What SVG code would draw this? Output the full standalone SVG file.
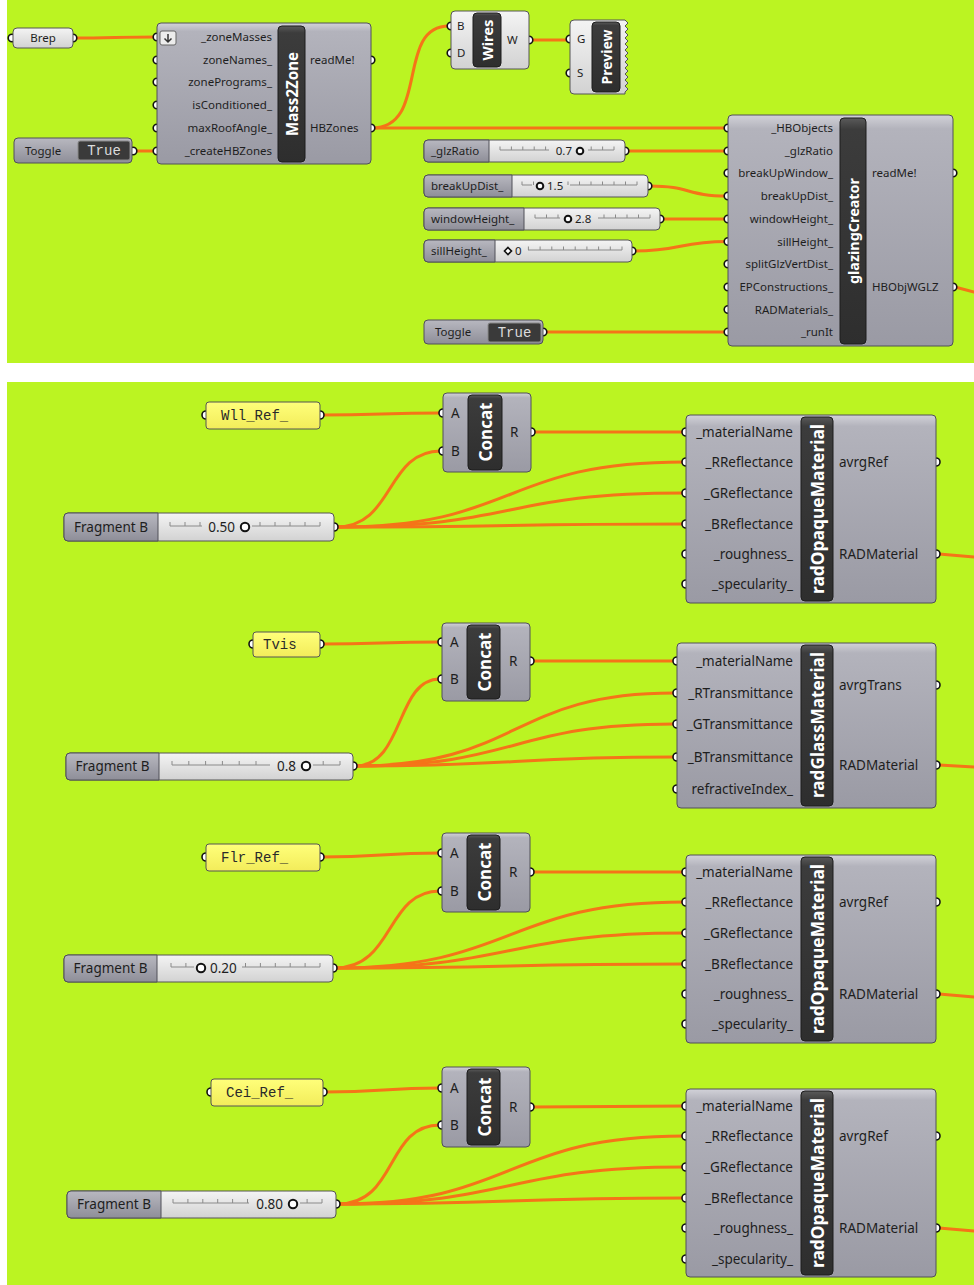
<svg xmlns="http://www.w3.org/2000/svg" width="974" height="1285" viewBox="0 0 974 1285">
<defs>
<linearGradient id="gComp" x1="0" y1="0" x2="0" y2="1"><stop offset="0" stop-color="#d2d2d8"/><stop offset="0.06" stop-color="#b3b3bc"/><stop offset="1" stop-color="#9a9aa4"/></linearGradient>
<linearGradient id="gWhite" x1="0" y1="0" x2="0" y2="1"><stop offset="0" stop-color="#f4f4f4"/><stop offset="1" stop-color="#d2d2d2"/></linearGradient>
<linearGradient id="gLab" x1="0" y1="0" x2="0" y2="1"><stop offset="0" stop-color="#b8b8c0"/><stop offset="1" stop-color="#8e8e98"/></linearGradient>
<linearGradient id="gTitle" x1="0" y1="0" x2="0" y2="1"><stop offset="0" stop-color="#5a5a5a"/><stop offset="0.05" stop-color="#3c3c3c"/><stop offset="1" stop-color="#2e2e2e"/></linearGradient>
<linearGradient id="gYel" x1="0" y1="0" x2="0" y2="1"><stop offset="0" stop-color="#ffff7a"/><stop offset="1" stop-color="#f2ec5a"/></linearGradient>
</defs>
<style>
.bg{fill:#bbf422}
.wire{fill:none;stroke:#f57418;stroke-width:3;stroke-linecap:round}
.pl{fill:url(#gComp);stroke:#505058;stroke-width:1}
.pw{fill:url(#gWhite);stroke:#555;stroke-width:1}
.sd{fill:url(#gLab);stroke:#505058;stroke-width:1}
.yl{fill:url(#gYel);stroke:#555;stroke-width:1}
.tb{fill:url(#gTitle);stroke:#1c1c1c;stroke-width:1}
.tg{fill:#3a3a3a;stroke:#8a8a8a;stroke-width:1}
.port{fill:#fff;stroke:#111;stroke-width:1.6}
.tt{font-family:'Noto Sans','DejaVu Sans',sans-serif;font-weight:bold;fill:#fff;text-anchor:middle;dominant-baseline:central}
.l{font-family:'Noto Sans','DejaVu Sans',sans-serif;font-size:11.5px;fill:#1e1e1e}
.L{font-family:'Noto Sans','DejaVu Sans',sans-serif;font-size:13.5px;fill:#1e1e1e}
.r{text-anchor:end}
.c{text-anchor:middle}
.m{font-family:'Liberation Mono','Courier New',monospace;fill:#2a2a2a}
.tv{font-family:'Liberation Mono','Courier New',monospace;font-size:14px;fill:#dcdcdc;text-anchor:middle}
.trk{fill:none;stroke:#8a8a8a;stroke-width:1}
.knob{fill:#fff;stroke:#111;stroke-width:2}
</style>
<rect x="0" y="0" width="974" height="1285" fill="#ffffff"/>
<rect class="bg" x="7" y="0" width="967" height="363"/>
<rect class="bg" x="7" y="382" width="967" height="903"/>

<g id="connectors">
<path class="wire" d="M74,38 C110,38 120,37 156,37"/>
<path class="wire" d="M134,151 H156"/>
<path class="wire" d="M372,128 C430,128 395,26 449,26"/>
<path class="wire" d="M372,128 H727"/>
<path class="wire" d="M531,40 H568"/>
<path class="wire" d="M627,151 H727"/>
<path class="wire" d="M650,186 C690,186 687,196 727,196"/>
<path class="wire" d="M662,219 H727"/>
<path class="wire" d="M634,251 C682,251 679,241.5 727,241.5"/>
<path class="wire" d="M545,332 H727"/>
<path class="wire" d="M955,287 L974,292"/>

<path class="wire" d="M322,415 C380,415 383,413 441,413"/>
<path class="wire" d="M336,527 C395,527 385,451 441,451"/>
<path class="wire" d="M336,527 C520,527 500,462 684,462"/>
<path class="wire" d="M336,527 C520,527 500,493 684,493"/>
<path class="wire" d="M336,527 C520,527 500,524 684,524"/>
<path class="wire" d="M533,432 H684"/>
<path class="wire" d="M939,554 L974,557"/>

<path class="wire" d="M322,644 C380,644 382,642 440,642"/>
<path class="wire" d="M355,766 C405,766 395,679 440,679"/>
<path class="wire" d="M355,766 C520,766 510,693 674,693"/>
<path class="wire" d="M355,766 C520,766 510,724 674,724"/>
<path class="wire" d="M355,766 C520,766 510,757 674,757"/>
<path class="wire" d="M532,661 H674"/>
<path class="wire" d="M939,765 L974,767"/>

<path class="wire" d="M322,857 C380,857 382,853 440,853"/>
<path class="wire" d="M335,968 C395,968 385,891 440,891"/>
<path class="wire" d="M335,968 C515,968 505,902 684,902"/>
<path class="wire" d="M335,968 C515,968 505,933 684,933"/>
<path class="wire" d="M335,968 C515,968 505,964 684,964"/>
<path class="wire" d="M532,872 H684"/>
<path class="wire" d="M939,994 L974,997"/>

<path class="wire" d="M325,1092 C385,1092 382,1088 440,1088"/>
<path class="wire" d="M338,1204 C398,1204 385,1125 440,1125"/>
<path class="wire" d="M338,1204 C515,1204 505,1136 684,1136"/>
<path class="wire" d="M338,1204 C515,1204 505,1167 684,1167"/>
<path class="wire" d="M338,1204 C515,1204 505,1198 684,1198"/>
<path class="wire" d="M532,1107 C600,1107 620,1106 684,1106"/>
<path class="wire" d="M939,1228 L974,1231"/>
</g>

<g id="brep">
<circle class="port" cx="12" cy="38" r="3.8"/><circle class="port" cx="73" cy="38" r="3.8"/>
<rect class="pw" x="13" y="28" width="60" height="20" rx="4"/>
<text class="l c" x="43" y="42">Brep</text>
</g>

<g id="mass2zone">
<circle class="port" cx="157" cy="37" r="3.8"/><circle class="port" cx="157" cy="60" r="3.8"/><circle class="port" cx="157" cy="82" r="3.8"/><circle class="port" cx="157" cy="105" r="3.8"/><circle class="port" cx="157" cy="128" r="3.8"/><circle class="port" cx="157" cy="151" r="3.8"/>
<circle class="port" cx="371" cy="60" r="3.8"/><circle class="port" cx="371" cy="128" r="3.8"/>
<rect class="pl" x="157" y="23" width="214" height="141" rx="4"/>
<rect x="160" y="31" width="16" height="14" rx="2" fill="#ececec" stroke="#666"/>
<path d="M168,34 V42 M164.5,38.5 L168,42 L171.5,38.5" fill="none" stroke="#333" stroke-width="1.5"/>
<rect class="tb" x="278" y="26" width="27" height="136" rx="4"/>
<text class="tt" transform="translate(291.5,94) rotate(-90)" font-size="16" textLength="84" lengthAdjust="spacingAndGlyphs">Mass2Zone</text>
<text class="l r" x="272" y="41">_zoneMasses</text>
<text class="l r" x="272" y="64">zoneNames_</text>
<text class="l r" x="272" y="86">zonePrograms_</text>
<text class="l r" x="272" y="109">isConditioned_</text>
<text class="l r" x="272" y="132">maxRoofAngle_</text>
<text class="l r" x="272" y="155">_createHBZones</text>
<text class="l" x="310" y="64">readMe!</text>
<text class="l" x="310" y="132">HBZones</text>
</g>

<g id="toggle1">
<circle class="port" cx="133" cy="151" r="3.8"/>
<rect class="sd" x="14" y="138" width="118" height="25" rx="4"/>
<text class="l" x="25" y="155">Toggle</text>
<rect class="tg" x="78" y="141" width="52" height="19" rx="2"/>
<text class="tv" x="104" y="155">True</text>
</g>

<g id="wires">
<circle class="port" cx="451" cy="26" r="3.8"/><circle class="port" cx="451" cy="53" r="3.8"/><circle class="port" cx="529" cy="40" r="3.8"/>
<rect class="pw" x="451" y="11" width="78" height="58" rx="4"/>
<rect class="tb" x="473" y="13" width="28" height="54" rx="4"/>
<text class="tt" transform="translate(487,40) rotate(-90)" font-size="15" textLength="41" lengthAdjust="spacingAndGlyphs">Wires</text>
<text class="l" x="457" y="30">B</text>
<text class="l" x="457" y="57">D</text>
<text class="l" x="507" y="44">W</text>
</g>

<g id="preview">
<circle class="port" cx="570" cy="39" r="3.8"/><circle class="port" cx="570" cy="73" r="3.8"/>
<path class="pw" d="M574,20 H625 L628,23 L625,26 L628,29 L625,32 L628,35 L625,38 L628,41 L625,44 L628,47 L625,50 L628,53 L625,56 L628,59 L625,62 L628,65 L625,68 L628,71 L625,74 L628,77 L625,80 L628,83 L625,86 L628,89 L625,92 L625,94 H574 Q570,94 570,90 V24 Q570,20 574,20 Z"/>
<rect class="tb" x="592" y="22" width="28" height="70" rx="4"/>
<text class="tt" transform="translate(606,57) rotate(-90)" font-size="15" textLength="55" lengthAdjust="spacingAndGlyphs">Preview</text>
<text class="l" x="577" y="43">G</text>
<text class="l" x="577" y="77">S</text>
</g>

<g id="slider-glzRatio">
<circle class="port" cx="625" cy="151" r="3.8"/>
<rect class="pw" x="424" y="140" width="201" height="22" rx="4"/>
<path class="sd" d="M428,140 H489 V162 H428 Q424,162 424,158 V144 Q424,140 428,140 Z"/>
<text class="l" x="431" y="155">_glzRatio</text>
<path class="trk" d="M500,150 H549 M588,150 H614 M500,146.5V150 M511.4,146.5V150 M522.8,146.5V150 M534.2,146.5V150 M545.6,146.5V150 M591.2,146.5V150 M602.6,146.5V150 M614,146.5V150"/>
<text class="l r" x="572" y="155">0.7</text>
<circle class="knob" cx="580" cy="151" r="3.3"/>
</g>

<g id="slider-breakUpDist">
<circle class="port" cx="648" cy="186" r="3.8"/>
<rect class="pw" x="424" y="175" width="224" height="22" rx="4"/>
<path class="sd" d="M428,175 H512 V197 H428 Q424,197 424,193 V179 Q424,175 428,175 Z"/>
<text class="l" x="431" y="190">breakUpDist_</text>
<path class="trk" d="M522,185 H532 M570,185 H637 M522,181.5V185 M533.5,181.5V185 M568,181.5V185 M579.5,181.5V185 M591,181.5V185 M602.5,181.5V185 M614,181.5V185 M625.5,181.5V185 M637,181.5V185"/>
<circle class="knob" cx="540" cy="186" r="3.3"/>
<text class="l" x="547" y="190">1.5</text>
</g>

<g id="slider-windowHeight">
<circle class="port" cx="660" cy="219" r="3.8"/>
<rect class="pw" x="424" y="208" width="236" height="22" rx="4"/>
<path class="sd" d="M428,208 H524 V230 H428 Q424,230 424,226 V212 Q424,208 428,208 Z"/>
<text class="l" x="431" y="223">windowHeight_</text>
<path class="trk" d="M535,218 H560 M598,218 H650 M535,214.5V218 M546.5,214.5V218 M558,214.5V218 M604,214.5V218 M615.5,214.5V218 M627,214.5V218 M638.5,214.5V218 M650,214.5V218"/>
<circle class="knob" cx="568" cy="219" r="3.3"/>
<text class="l" x="575" y="223">2.8</text>
</g>

<g id="slider-sillHeight">
<circle class="port" cx="632" cy="251" r="3.8"/>
<rect class="pw" x="424" y="240" width="208" height="22" rx="4"/>
<path class="sd" d="M428,240 H495 V262 H428 Q424,262 424,258 V244 Q424,240 428,240 Z"/>
<text class="l" x="431" y="255">sillHeight_</text>
<path class="trk" d="M528,250 H622 M528.4,246.5V250 M540.1,246.5V250 M551.8,246.5V250 M563.5,246.5V250 M575.2,246.5V250 M586.9,246.5V250 M598.6,246.5V250 M610.3,246.5V250 M622,246.5V250"/>
<path d="M508,247.5 L511.5,251 L508,254.5 L504.5,251 Z" fill="#fff" stroke="#111" stroke-width="1.6"/>
<text class="l" x="515" y="255">0</text>
</g>

<g id="toggle2">
<circle class="port" cx="543" cy="332" r="3.8"/>
<rect class="sd" x="424" y="320" width="119" height="24" rx="4"/>
<text class="l" x="435" y="336">Toggle</text>
<rect class="tg" x="488" y="323" width="53" height="19" rx="2"/>
<text class="tv" x="514.5" y="337">True</text>
</g>

<g id="glazingCreator">
<circle class="port" cx="728" cy="128" r="3.8"/><circle class="port" cx="728" cy="151" r="3.8"/><circle class="port" cx="728" cy="173" r="3.8"/><circle class="port" cx="728" cy="196" r="3.8"/><circle class="port" cx="728" cy="219" r="3.8"/><circle class="port" cx="728" cy="241.5" r="3.8"/><circle class="port" cx="728" cy="264" r="3.8"/><circle class="port" cx="728" cy="287" r="3.8"/><circle class="port" cx="728" cy="309.5" r="3.8"/><circle class="port" cx="728" cy="332" r="3.8"/>
<circle class="port" cx="953" cy="173" r="3.8"/><circle class="port" cx="953" cy="287" r="3.8"/>
<rect class="pl" x="728" y="115" width="225" height="231" rx="4"/>
<rect class="tb" x="840" y="118" width="26" height="226" rx="4"/>
<text class="tt" transform="translate(853,231) rotate(-90)" font-size="15" textLength="106" lengthAdjust="spacingAndGlyphs">glazingCreator</text>
<text class="l r" x="833" y="132">_HBObjects</text>
<text class="l r" x="833" y="155">_glzRatio</text>
<text class="l r" x="833" y="177">breakUpWindow_</text>
<text class="l r" x="833" y="200">breakUpDist_</text>
<text class="l r" x="833" y="223">windowHeight_</text>
<text class="l r" x="833" y="245.5">sillHeight_</text>
<text class="l r" x="833" y="268">splitGlzVertDist_</text>
<text class="l r" x="833" y="291">EPConstructions_</text>
<text class="l r" x="833" y="313.5">RADMaterials_</text>
<text class="l r" x="833" y="336">_runIt</text>
<text class="l" x="872" y="177">readMe!</text>
<text class="l" x="872" y="291">HBObjWGLZ</text>
</g>

<!-- Block 1 -->
<g id="panel-wll">
<circle class="port" cx="206" cy="415" r="4"/><circle class="port" cx="320" cy="415" r="4"/>
<rect class="yl" x="206" y="402" width="114" height="27" rx="3"/>
<text class="m" x="221" y="420" font-size="14">Wll_Ref_</text>
</g>
<g id="concat1">
<circle class="port" cx="443" cy="413" r="4"/><circle class="port" cx="443" cy="451" r="4"/><circle class="port" cx="531" cy="432" r="4"/>
<rect class="pl" x="443" y="393" width="88" height="79" rx="4"/>
<rect class="tb" x="468" y="395" width="34" height="75" rx="4"/>
<text class="tt" transform="translate(485,432) rotate(-90)" font-size="18" textLength="59" lengthAdjust="spacingAndGlyphs">Concat</text>
<text class="L" x="451" y="418">A</text>
<text class="L" x="451" y="456">B</text>
<text class="L" x="510" y="437">R</text>
</g>
<g id="slider-frag1">
<circle class="port" cx="334" cy="527" r="4"/>
<rect class="pw" x="64" y="513" width="270" height="28" rx="4"/>
<path class="sd" d="M68,513 H158 V541 H68 Q64,541 64,537 V517 Q64,513 68,513 Z"/>
<text class="L c" x="111" y="532">Fragment B</text>
<path class="trk" d="M170,526 H202 M252,526 H320 M170,522V526 M185,522V526 M200,522V526 M260,522V526 M275,522V526 M290,522V526 M305,522V526 M320,522V526"/>
<text class="L r" x="235" y="532">0.50</text>
<circle class="knob" cx="245" cy="527" r="4.2"/>
</g>
<g id="radOpaque1">
<circle class="port" cx="686" cy="432" r="4"/><circle class="port" cx="686" cy="462" r="4"/><circle class="port" cx="686" cy="493" r="4"/><circle class="port" cx="686" cy="524" r="4"/><circle class="port" cx="686" cy="554" r="4"/><circle class="port" cx="686" cy="584" r="4"/>
<circle class="port" cx="936" cy="462" r="4"/><circle class="port" cx="936" cy="554" r="4"/>
<rect class="pl" x="686" y="415" width="250" height="188" rx="4"/>
<rect class="tb" x="801" y="417" width="32" height="184" rx="4"/>
<text class="tt" transform="translate(817,509) rotate(-90)" font-size="18" textLength="170" lengthAdjust="spacingAndGlyphs">radOpaqueMaterial</text>
<text class="L r" x="793" y="437">_materialName</text>
<text class="L r" x="793" y="467">_RReflectance</text>
<text class="L r" x="793" y="498">_GReflectance</text>
<text class="L r" x="793" y="529">_BReflectance</text>
<text class="L r" x="793" y="559">_roughness_</text>
<text class="L r" x="793" y="589">_specularity_</text>
<text class="L" x="839" y="467">avrgRef</text>
<text class="L" x="839" y="559">RADMaterial</text>
</g>

<!-- Block 2 -->
<g id="panel-tvis">
<circle class="port" cx="253" cy="644" r="4"/><circle class="port" cx="320" cy="644" r="4"/>
<rect class="yl" x="253" y="632" width="67" height="25" rx="3"/>
<text class="m" x="263" y="649" font-size="14">Tvis</text>
</g>
<g id="concat2">
<circle class="port" cx="442" cy="642" r="4"/><circle class="port" cx="442" cy="679" r="4"/><circle class="port" cx="530" cy="661" r="4"/>
<rect class="pl" x="442" y="623" width="88" height="78" rx="4"/>
<rect class="tb" x="467" y="625" width="33" height="74" rx="4"/>
<text class="tt" transform="translate(483.5,662) rotate(-90)" font-size="18" textLength="59" lengthAdjust="spacingAndGlyphs">Concat</text>
<text class="L" x="450" y="647">A</text>
<text class="L" x="450" y="684">B</text>
<text class="L" x="509" y="666">R</text>
</g>
<g id="slider-frag2">
<circle class="port" cx="353" cy="766" r="4"/>
<rect class="pw" x="66" y="753" width="287" height="27" rx="4"/>
<path class="sd" d="M70,753 H159 V780 H70 Q66,780 66,776 V757 Q66,753 70,753 Z"/>
<text class="L c" x="112.5" y="771">Fragment B</text>
<path class="trk" d="M172,765 H270 M313,765 H340 M172,761V765 M188.8,761V765 M205.6,761V765 M222.4,761V765 M239.2,761V765 M256,761V765 M323.2,761V765 M340,761V765"/>
<text class="L r" x="296" y="771">0.8</text>
<circle class="knob" cx="306" cy="766" r="4.2"/>
</g>
<g id="radGlass">
<circle class="port" cx="677" cy="661" r="4"/><circle class="port" cx="677" cy="693" r="4"/><circle class="port" cx="677" cy="724" r="4"/><circle class="port" cx="677" cy="757" r="4"/><circle class="port" cx="677" cy="789" r="4"/>
<circle class="port" cx="936" cy="685" r="4"/><circle class="port" cx="936" cy="765" r="4"/>
<rect class="pl" x="677" y="643" width="259" height="165" rx="4"/>
<rect class="tb" x="801" y="645" width="32" height="161" rx="4"/>
<text class="tt" transform="translate(817,725) rotate(-90)" font-size="18" textLength="146" lengthAdjust="spacingAndGlyphs">radGlassMaterial</text>
<text class="L r" x="793" y="666">_materialName</text>
<text class="L r" x="793" y="698">_RTransmittance</text>
<text class="L r" x="793" y="729">_GTransmittance</text>
<text class="L r" x="793" y="762">_BTransmittance</text>
<text class="L r" x="793" y="794">refractiveIndex_</text>
<text class="L" x="839" y="690">avrgTrans</text>
<text class="L" x="839" y="770">RADMaterial</text>
</g>

<!-- Block 3 -->
<g id="panel-flr">
<circle class="port" cx="206" cy="857" r="4"/><circle class="port" cx="320" cy="857" r="4"/>
<rect class="yl" x="206" y="844" width="114" height="27" rx="3"/>
<text class="m" x="221" y="862" font-size="14">Flr_Ref_</text>
</g>
<g id="concat3">
<circle class="port" cx="442" cy="853" r="4"/><circle class="port" cx="442" cy="891" r="4"/><circle class="port" cx="530" cy="872" r="4"/>
<rect class="pl" x="442" y="833" width="88" height="79" rx="4"/>
<rect class="tb" x="467" y="835" width="33" height="75" rx="4"/>
<text class="tt" transform="translate(483.5,872) rotate(-90)" font-size="18" textLength="59" lengthAdjust="spacingAndGlyphs">Concat</text>
<text class="L" x="450" y="858">A</text>
<text class="L" x="450" y="896">B</text>
<text class="L" x="509" y="877">R</text>
</g>
<g id="slider-frag3">
<circle class="port" cx="333" cy="968" r="4"/>
<rect class="pw" x="64" y="955" width="269" height="27" rx="4"/>
<path class="sd" d="M68,955 H157 V982 H68 Q64,982 64,978 V959 Q64,955 68,955 Z"/>
<text class="L c" x="110.5" y="973">Fragment B</text>
<path class="trk" d="M171,967 H194 M242,967 H320 M171,963V967 M185.9,963V967 M245.5,963V967 M260.4,963V967 M275.3,963V967 M290.2,963V967 M305.1,963V967 M320,963V967"/>
<circle class="knob" cx="201" cy="968" r="4.2"/>
<text class="L" x="210" y="973">0.20</text>
</g>
<g id="radOpaque2">
<circle class="port" cx="686" cy="872" r="4"/><circle class="port" cx="686" cy="902" r="4"/><circle class="port" cx="686" cy="933" r="4"/><circle class="port" cx="686" cy="964" r="4"/><circle class="port" cx="686" cy="994" r="4"/><circle class="port" cx="686" cy="1024" r="4"/>
<circle class="port" cx="936" cy="902" r="4"/><circle class="port" cx="936" cy="994" r="4"/>
<rect class="pl" x="686" y="855" width="250" height="188" rx="4"/>
<rect class="tb" x="801" y="857" width="32" height="184" rx="4"/>
<text class="tt" transform="translate(817,949) rotate(-90)" font-size="18" textLength="170" lengthAdjust="spacingAndGlyphs">radOpaqueMaterial</text>
<text class="L r" x="793" y="877">_materialName</text>
<text class="L r" x="793" y="907">_RReflectance</text>
<text class="L r" x="793" y="938">_GReflectance</text>
<text class="L r" x="793" y="969">_BReflectance</text>
<text class="L r" x="793" y="999">_roughness_</text>
<text class="L r" x="793" y="1029">_specularity_</text>
<text class="L" x="839" y="907">avrgRef</text>
<text class="L" x="839" y="999">RADMaterial</text>
</g>

<!-- Block 4 -->
<g id="panel-cei">
<circle class="port" cx="211" cy="1092" r="4"/><circle class="port" cx="323" cy="1092" r="4"/>
<rect class="yl" x="211" y="1079" width="112" height="27" rx="3"/>
<text class="m" x="226" y="1097" font-size="14">Cei_Ref_</text>
</g>
<g id="concat4">
<circle class="port" cx="442" cy="1088" r="4"/><circle class="port" cx="442" cy="1125" r="4"/><circle class="port" cx="530" cy="1107" r="4"/>
<rect class="pl" x="442" y="1067" width="88" height="80" rx="4"/>
<rect class="tb" x="467" y="1069" width="33" height="76" rx="4"/>
<text class="tt" transform="translate(483.5,1107) rotate(-90)" font-size="18" textLength="59" lengthAdjust="spacingAndGlyphs">Concat</text>
<text class="L" x="450" y="1093">A</text>
<text class="L" x="450" y="1130">B</text>
<text class="L" x="509" y="1112">R</text>
</g>
<g id="slider-frag4">
<circle class="port" cx="336" cy="1204" r="4"/>
<rect class="pw" x="67" y="1191" width="269" height="27" rx="4"/>
<path class="sd" d="M71,1191 H161 V1218 H71 Q67,1218 67,1214 V1195 Q67,1191 71,1191 Z"/>
<text class="L c" x="114" y="1209">Fragment B</text>
<path class="trk" d="M173,1203 H249 M300,1203 H322 M173,1199V1203 M187.9,1199V1203 M202.8,1199V1203 M217.7,1199V1203 M232.6,1199V1203 M247.5,1199V1203 M307.1,1199V1203 M322,1199V1203"/>
<text class="L r" x="283" y="1209">0.80</text>
<circle class="knob" cx="293" cy="1204" r="4.2"/>
</g>
<g id="radOpaque3">
<circle class="port" cx="686" cy="1106" r="4"/><circle class="port" cx="686" cy="1136" r="4"/><circle class="port" cx="686" cy="1167" r="4"/><circle class="port" cx="686" cy="1198" r="4"/><circle class="port" cx="686" cy="1228" r="4"/><circle class="port" cx="686" cy="1259" r="4"/>
<circle class="port" cx="936" cy="1136" r="4"/><circle class="port" cx="936" cy="1228" r="4"/>
<rect class="pl" x="686" y="1089" width="250" height="188" rx="4"/>
<rect class="tb" x="801" y="1091" width="32" height="184" rx="4"/>
<text class="tt" transform="translate(817,1183) rotate(-90)" font-size="18" textLength="170" lengthAdjust="spacingAndGlyphs">radOpaqueMaterial</text>
<text class="L r" x="793" y="1111">_materialName</text>
<text class="L r" x="793" y="1141">_RReflectance</text>
<text class="L r" x="793" y="1172">_GReflectance</text>
<text class="L r" x="793" y="1203">_BReflectance</text>
<text class="L r" x="793" y="1233">_roughness_</text>
<text class="L r" x="793" y="1264">_specularity_</text>
<text class="L" x="839" y="1141">avrgRef</text>
<text class="L" x="839" y="1233">RADMaterial</text>
</g>
</svg>
